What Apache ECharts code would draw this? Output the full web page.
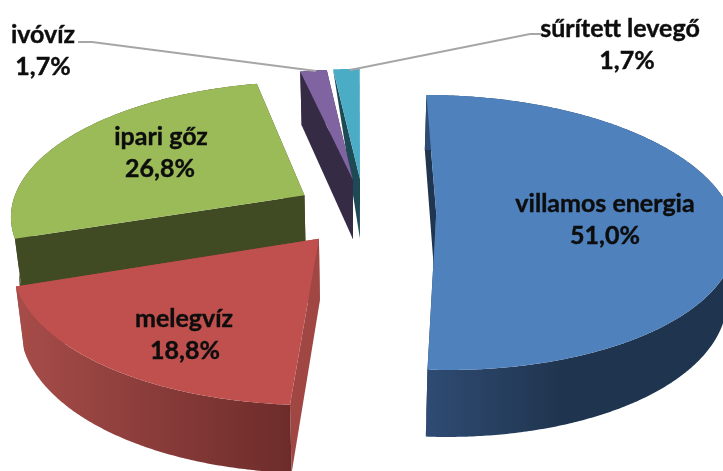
<!DOCTYPE html>
<html><head><meta charset="utf-8">
<style>html,body{margin:0;padding:0;background:#fff}#c{width:723px;height:471px}</style>
<script src="https://cdn.jsdelivr.net/npm/echarts@6/dist/echarts.min.js"></script>
</head><body><div id="c"></div>
<script>
// Data, clockwise from 12 o'clock
const categories = ['villamos energia', 'melegvíz', 'ipari gőz', 'ivóvíz', 'sűrített levegő'];
const values = [51.0, 18.8, 26.8, 1.7, 1.7];

// Look of each slice (same order as data)
const faceColors = ['#4F81BD', '#C0504D', '#9BBB59', '#8064A2', '#4BACC6'];
const cutColors = ['#1F3550', '#A04643', '#404A23', '#362B45', '#1E4A55'];
const rimStops = [['#2F4B73', '#1F344E'], ['#A64C49', '#6D2C2A'], ['#404A23', '#404A23'], ['#362B45', '#362B45'], ['#1E4A55', '#1E4A55']];
const rimRange = [[427, 565], [20, 290], [0, 300], [300, 330], [330, 362]];
const explode = [[0.265, 0], [-0.129, -0.186], [-0.185, 0.134], [-0.018, 0.256], [0.007, 0.262]];
const taperedWall = [false, false, false, false, true];
// name x, value x, shared middle y
const labelAt = [[605, 605, 220], [184, 185, 335], [161, 160, 153], [43, 43, 51], [620, 627, 45]];
const drawOrder = [4, 3, 2, 0, 1];

// Projection of the tilted pie
const CX = 358, CY = 213, A = 295, B = 134.7, K = 0.1418;
function upper(px, py) {
  const s = 1 / (1 + K * py);
  return [CX + A * px * s, CY - B * py * s];
}
function lower(px, py) {
  const p = upper(px, py);
  return [CX + (p[0] - CX) * 0.976, p[1] + 61 - 6 * py];
}
const total = values.reduce((a, b) => a + b, 0);
const starts = values.map((v, i) => values.slice(0, i).reduce((a, b) => a + b, 0) / total * 360);

function arcPts(i) {
  const a0 = starts[i], a1 = a0 + values[i] / total * 360, [ox, oy] = explode[i], pts = [];
  const n = Math.max(4, Math.ceil((a1 - a0) * 2));
  for (let j = 0; j <= n; j++) {
    const t = (a0 + (a1 - a0) * j / n) * Math.PI / 180;
    pts.push([ox + Math.sin(t), oy + Math.cos(t)]);
  }
  return pts;
}

function renderItem(params, api) {
  const i = api.value(0);
  const g = arcPts(i), [ox, oy] = explode[i];
  const first = g[0], last = g[g.length - 1];
  const quad = (a, b) => ({ type: 'polygon',
    shape: { points: taperedWall[i] ? [upper(...a), upper(...b), lower(...a)] : [upper(...a), upper(...b), lower(...b), lower(...a)] },
    style: { fill: cutColors[i] }, silent: true });
  const rimPoly = g.map(p => upper(...p)).concat(g.slice().reverse().map(p => lower(...p)));
  const facePoly = [upper(ox, oy)].concat(g.map(p => upper(...p)));
  const grad = new echarts.graphic.LinearGradient(rimRange[i][0], 0, rimRange[i][1], 0,
    [{ offset: 0, color: rimStops[i][0] }, { offset: 1, color: rimStops[i][1] }], true);
  const children = [quad([ox, oy], first), quad([ox, oy], last)];
  if (!taperedWall[i]) children.push({ type: 'polygon', shape: { points: rimPoly }, style: { fill: grad }, silent: true });
  children.push({ type: 'polygon', shape: { points: facePoly }, style: { fill: faceColors[i] }, silent: true });
  return { type: 'group', children };
}

function renderLabel(params, api) {
  const i = api.value(0), [x1, x2, y] = labelAt[i];
  const line = (text, x, yy) => ({ type: 'text', style: { x, y: yy, text, textAlign: 'center', textVerticalAlign: 'middle',
    font: 'bold 25px Lato', fill: '#0D0D0D', stroke: '#0D0D0D', lineWidth: 0.4 } });
  return { type: 'group', children: [
    line(categories[i], x1, y - 16),
    line(values[i].toFixed(1).replace('.', ',') + '%', x2, y + 16)
  ]};
}

const chart = echarts.init(document.getElementById('c'), null, { renderer: 'canvas' });
chart.setOption({
  animation: false,
  backgroundColor: '#fff',
  series: [
    { type: 'custom', coordinateSystem: 'none', silent: true, renderItem, data: drawOrder.map(i => [i]), z: 2 },
    { type: 'custom', coordinateSystem: 'none', silent: true, renderItem: renderLabel, data: [0, 1, 2, 3, 4].map(i => [i]), z: 4 }
  ],
  graphic: [
    { type: 'polyline', z: 3, silent: true, shape: { points: [[78, 42], [92, 42], [316, 71]] }, style: { stroke: '#A6A6A6', lineWidth: 2, fill: null } },
    { type: 'polyline', z: 3, silent: true, shape: { points: [[350, 70], [530, 34], [543, 34]] }, style: { stroke: '#A6A6A6', lineWidth: 2, fill: null } }
  ]
});
</script></body></html>
